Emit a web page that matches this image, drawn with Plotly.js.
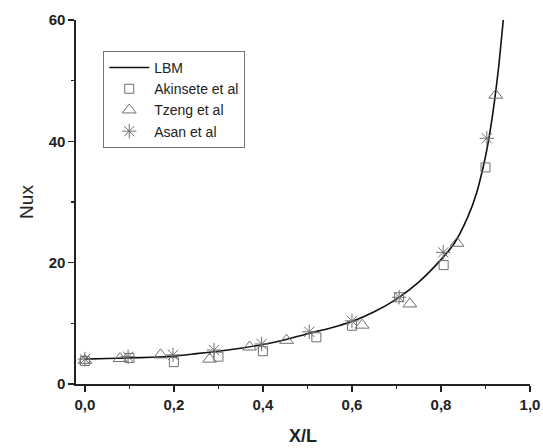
<!DOCTYPE html>
<html><head><meta charset="utf-8">
<script src="https://cdn.plot.ly/plotly-3.0.1.min.js"></script>
<style>html,body{margin:0;padding:0;background:#fff}#chart{width:543px;height:448px}</style>
</head><body><div id="chart"></div>
<script>
// LBM curve
const lbmX = [0, 0.05, 0.1, 0.15, 0.2, 0.25, 0.3, 0.35, 0.4, 0.45, 0.5, 0.55, 0.6, 0.65, 0.7, 0.75, 0.8, 0.83, 0.86, 0.88, 0.9, 0.91, 0.92, 0.93, 0.94];
const lbmY = [4.1, 4.2, 4.3, 4.4, 4.6, 5.0, 5.4, 5.9, 6.5, 7.3, 8.3, 9.2, 10.3, 11.9, 14.0, 16.8, 20.5, 23.2, 27.5, 31.5, 37.5, 41.5, 46.5, 52.5, 60];
// Akinsete et al
const akX = [0.0, 0.10, 0.20, 0.30, 0.40, 0.52, 0.60, 0.706, 0.806, 0.90];
const akY = [3.8, 4.3, 3.6, 4.5, 5.4, 7.7, 9.6, 14.3, 19.6, 35.7];
// Tzeng et al
const tzX = [0.0, 0.079, 0.17, 0.28, 0.37, 0.453, 0.623, 0.73, 0.836, 0.923];
const tzY = [3.9, 4.2, 4.8, 4.1, 6.1, 7.2, 9.7, 13.2, 23.2, 47.6];
// Asan et al
const asX = [0.0, 0.097, 0.198, 0.29, 0.397, 0.504, 0.60, 0.706, 0.805, 0.903];
const asY = [4.1, 4.5, 4.8, 5.6, 6.6, 8.6, 10.4, 14.3, 21.7, 40.5];

const grey = '#707070';
const traces = [
  {x: lbmX, y: lbmY, mode: 'lines', name: 'LBM', line: {color: '#111', width: 1.6, shape: 'spline', smoothing: 0.6}},
  {x: akX, y: akY, mode: 'markers', name: 'Akinsete et al', marker: {symbol: 'square-open', size: 9, color: grey, line: {width: 1}}},
  {x: tzX, y: tzY, mode: 'markers', name: 'Tzeng et al', marker: {symbol: 'triangle-up-open', size: 12, color: grey, line: {width: 1}}},
  {x: asX, y: asY, mode: 'markers', name: 'Asan et al', marker: {symbol: 'asterisk-open', size: 12, color: grey, line: {width: 1}}}
];
const tickFont = {family: 'Liberation Sans, Arial, sans-serif', size: 15, color: '#222', weight: 'bold'};
const layout = {
  width: 543, height: 448,
  margin: {l: 76, r: 13, t: 20, b: 64},
  separators: ',.',
  showlegend: true,
  paper_bgcolor: '#fff', plot_bgcolor: '#fff',
  font: {family: 'Liberation Sans, Arial, sans-serif', color: '#222'},
  xaxis: {
    range: [-0.02, 1.0], tickvals: [0, 0.2, 0.4, 0.6, 0.8, 1.0], tickformat: '.1f',
    ticks: 'outside', ticklen: 6, tickwidth: 1.5, tickcolor: '#222',
    minor: {dtick: 0.1, tick0: 0, ticks: 'outside', ticklen: 3, tickwidth: 1.2, tickcolor: '#222'},
    showline: true, linecolor: '#222', linewidth: 1.6, showgrid: false, zeroline: false,
    tickfont: tickFont,
    title: {text: 'X/L', font: {family: 'Liberation Sans, Arial, sans-serif', size: 18, color: '#222', weight: 'bold'}, standoff: 18}
  },
  yaxis: {
    range: [0, 60], tickvals: [0, 20, 40, 60],
    ticks: 'outside', ticklen: 6, tickwidth: 1.5, tickcolor: '#222',
    minor: {dtick: 10, tick0: 0, ticks: 'outside', ticklen: 3, tickwidth: 1.2, tickcolor: '#222'},
    showline: true, linecolor: '#222', linewidth: 1.6, showgrid: false, zeroline: false,
    tickfont: tickFont,
    title: {text: 'Nux', font: {family: 'Liberation Sans, Arial, sans-serif', size: 19, color: '#222'}, standoff: 10}
  },
  legend: {
    x: 0.06, y: 0.915, xanchor: 'left', yanchor: 'top',
    bordercolor: '#777', borderwidth: 1, bgcolor: '#fff',
    font: {family: 'Liberation Sans, Arial, sans-serif', size: 14, color: '#222'},
    tracegroupgap: 0, itemwidth: 40
  }
};
Plotly.newPlot('chart', traces, layout, {displayModeBar: false, staticPlot: true});
</script></body></html>
